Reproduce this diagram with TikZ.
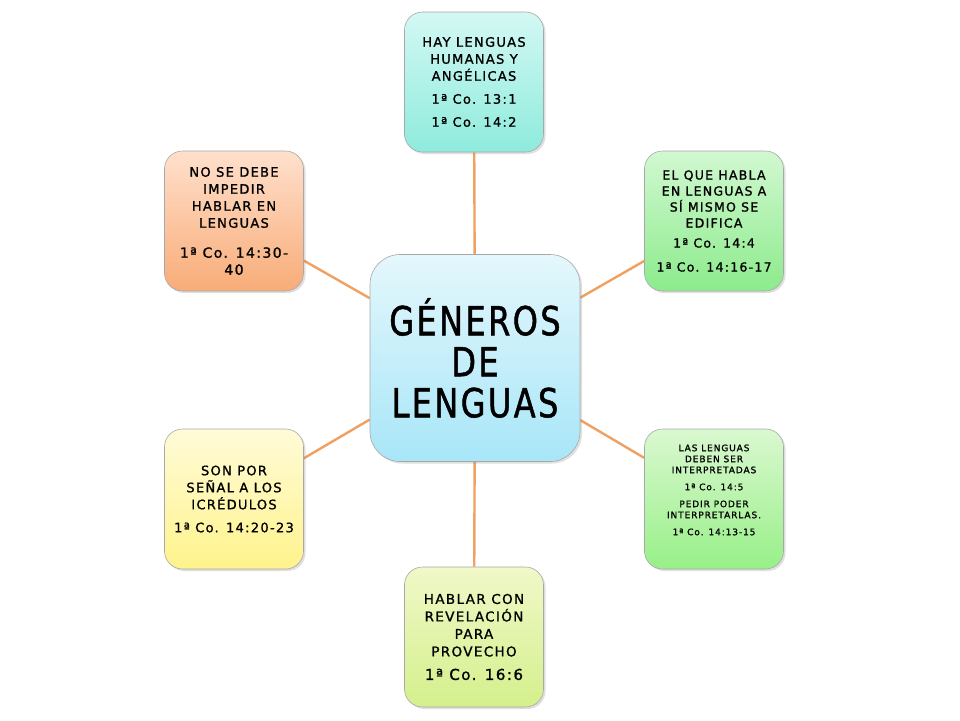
\documentclass[tikz,border=0pt]{standalone}
\usepackage{fontspec}
\setmainfont{DejaVu Sans}[LetterSpace=10,FakeBold=1.2]
\newfontfamily\bigfont{DejaVu Sans}[LetterSpace=6,FakeStretch=0.8,FakeBold=1.2]
\usetikzlibrary{shadows,backgrounds}
\definecolor{conn}{HTML}{F0A060}
\definecolor{edge}{HTML}{A8A8A8}
\tikzset{
  box/.style={rounded corners=18pt, draw=edge, line width=0.6pt,
    minimum width=139pt, minimum height=140pt, align=center, inner sep=2pt,
    text=black, font=\fontsize{13}{17}\selectfont,
    drop shadow={opacity=0.25, shadow xshift=2pt, shadow yshift=-2pt}},
  conline/.style={draw=conn, line width=2.4pt}
}
\begin{document}
\begin{tikzpicture}[x=1pt,y=-1pt]
\useasboundingbox (0,0) rectangle (960,720);
\node[box, minimum width=210pt, minimum height=207pt, rounded corners=30pt,
  top color={rgb,255:red,228;green,247;blue,252}, bottom color={rgb,255:red,168;green,230;blue,248},
  font=\bigfont\fontsize{40}{41}\selectfont] (c) at (475,358) {GÉNEROS\\DE\\LENGUAS};
\node[box, top color={rgb,255:red,212;green,248;blue,244}, bottom color={rgb,255:red,142;green,235;blue,220}]
  (t) at (474,82) {HAY LENGUAS\\HUMANAS Y\\ANGÉLICAS\\[6pt]1ª Co. 13:1\\[6pt]1ª Co. 14:2};
\node[box, font=\fontsize{12.5}{16}\selectfont, top color={rgb,255:red,210;green,248;blue,210}, bottom color={rgb,255:red,140;green,235;blue,140}]
  (ur) at (714,221) {EL QUE HABLA\\EN LENGUAS A\\SÍ MISMO SE\\EDIFICA\\[4pt]1ª Co. 14:4\\[8pt]1ª Co. 14:16-17};
\node[box, font=\fontsize{9}{11}\selectfont, top color={rgb,255:red,218;green,248;blue,208}, bottom color={rgb,255:red,152;green,240;blue,136}]
  (lr) at (714,499) {LAS LENGUAS\\DEBEN SER\\INTERPRETADAS\\[6pt]1ª Co. 14:5\\[6pt]PEDIR PODER\\INTERPRETARLAS.\\[6pt]1ª Co. 14:13-15\\[4pt]\strut};
\node[box, font=\fontsize{13.5}{17.5}\selectfont, top color={rgb,255:red,240;green,248;blue,200}, bottom color={rgb,255:red,212;green,240;blue,140}]
  (b) at (474,637) {HABLAR CON\\REVELACIÓN\\PARA\\PROVECHO\\[6pt]{\fontsize{15}{17}\selectfont 1ª Co. 16:6}};
\node[box, top color={rgb,255:red,255;green,251;blue,216}, bottom color={rgb,255:red,255;green,243;blue,140}]
  (ll) at (234,499) {SON POR\\SEÑAL A LOS\\ICRÉDULOS\\[6pt]1ª Co. 14:20-23};
\node[box, top color={rgb,255:red,255;green,224;blue,204}, bottom color={rgb,255:red,248;green,172;blue,120}]
  (ul) at (234,221) {NO SE DEBE\\IMPEDIR\\HABLAR EN\\LENGUAS\\[13pt]{\fontsize{14}{16}\selectfont 1ª Co. 14:30-}\\{\fontsize{14}{16}\selectfont 40}};
\begin{scope}[on background layer]
\fill[white] (0,0) rectangle (960,720);
\draw[conline] (c) -- (t);
\draw[conline] (c) -- (ur);
\draw[conline] (c) -- (lr);
\draw[conline] (c) -- (b);
\draw[conline] (c) -- (ll);
\draw[conline] (c) -- (ul);
\end{scope}
\end{tikzpicture}
\end{document}
